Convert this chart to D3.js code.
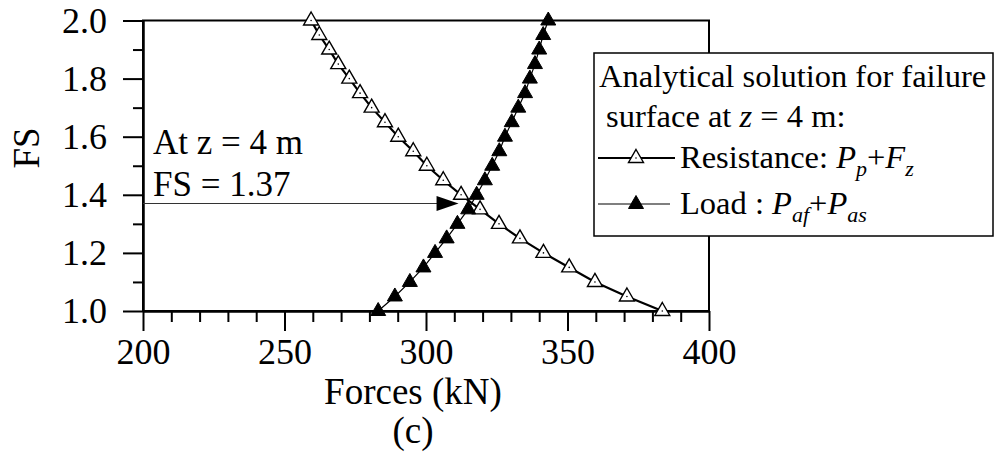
<!DOCTYPE html>
<html>
<head>
<meta charset="utf-8">
<script src="https://cdn.jsdelivr.net/npm/d3@7"></script>
<style>
  html, body { margin: 0; padding: 0; background: #fff; }
  svg text { font-family: "Liberation Serif", "DejaVu Serif", serif !important; fill: #000; }
</style>
</head>
<body>
<svg id="chart" width="1004" height="457"></svg>
<script>
// FS levels (y) and the two force curves (x, kN)
const fsLevels = [2.0, 1.95, 1.9, 1.85, 1.8, 1.75, 1.7, 1.65, 1.6, 1.55, 1.5,
                  1.45, 1.4, 1.35, 1.3, 1.25, 1.2, 1.15, 1.1, 1.05, 1.0];
const resistance = [259.4, 262.3, 265.8, 269.0, 272.9, 276.7, 280.8, 285.5, 290.2, 295.5, 300.3,
                    306.1, 312.4, 319.1, 325.8, 333.2, 341.5, 350.6, 359.7, 371.0, 383.5];
const load = [343.2, 341.4, 340.0, 338.5, 336.7, 335.0, 332.6, 330.3, 327.9, 325.9, 323.4,
              320.8, 317.9, 314.9, 311.1, 307.3, 303.2, 299.1, 294.3, 289.0, 283.1];

const xMajor = [200, 250, 300, 350, 400];
const xMinor = [210, 220, 230, 240, 260, 270, 280, 290, 310, 320, 330, 340, 360, 370, 380, 390];
const yMajor = [1.0, 1.2, 1.4, 1.6, 1.8, 2.0];
const yMinor = [1.1, 1.3, 1.5, 1.7, 1.9];

// annotation: FS found at z = 4 m
const fsResult = 1.37;
const arrowTip = 311.5;

const SERIF = '"Liberation Serif", "DejaVu Serif", serif';
const TICK_FONT = 36;
const TITLE_FONT = 37;
const NOTE_FONT = 35;
const LEGEND_FONT = 32.5;

const svg = d3.select("#chart");
const margin = { left: 143, right: 295, top: 20.5, bottom: 146 };
const width = 1004, height = 457;

const x = d3.scaleLinear().domain([200, 400]).range([margin.left, width - margin.right]);
const y = d3.scaleLinear().domain([1, 2]).range([height - margin.bottom, margin.top]);

// axes
svg.append("g")
    .attr("transform", `translate(0,${y(1)})`)
    .call(d3.axisBottom(x).tickValues(xMajor).tickSize(20).tickSizeOuter(0).tickPadding(7).tickFormat(d3.format("d")));
svg.append("g")
    .attr("transform", `translate(0,${y(1)})`)
    .call(d3.axisBottom(x).tickValues(xMinor).tickSize(11).tickSizeOuter(0).tickFormat(""));

svg.append("g")
    .attr("transform", `translate(${x(200)},0)`)
    .call(d3.axisLeft(y).tickValues(yMajor).tickSize(20).tickSizeOuter(0).tickPadding(16).tickFormat(d3.format(".1f")));
svg.append("g")
    .attr("transform", `translate(${x(200)},0)`)
    .call(d3.axisLeft(y).tickValues(yMinor).tickSize(10).tickSizeOuter(0).tickFormat(""));

svg.selectAll("g").attr("font-family", SERIF);
svg.selectAll(".tick line").attr("stroke", "#000").attr("stroke-width", 2);
svg.selectAll(".domain").attr("stroke", "#000").attr("stroke-width", 2);
svg.selectAll(".tick text").attr("font-size", TICK_FONT).style("font-family", SERIF);

// frame
svg.append("rect")
    .attr("x", x(200)).attr("y", y(2))
    .attr("width", x(400) - x(200)).attr("height", y(1) - y(2))
    .attr("fill", "none").attr("stroke", "#000").attr("stroke-width", 2);

function label(xPos, yPos, txt, size, anchor = "start") {
    return svg.append("text")
        .attr("x", xPos).attr("y", yPos)
        .attr("text-anchor", anchor)
        .style("font-family", SERIF).style("font-size", size + "px")
        .text(txt);
}

// axis titles
label(413, 404, "Forces (kN)", TITLE_FONT, "middle");
label(413, 443, "(c)", TITLE_FONT, "middle");
label(0, 0, "FS", TITLE_FONT, "middle").attr("transform", "translate(39,148) rotate(-90)");

// annotation text
label(153, 154, "At z = 4 m", NOTE_FONT);
label(153, 196, "FS = 1.37", NOTE_FONT);

// triangle marker
const tri = "M0,-8.5L7.5,4.5L-7.5,4.5Z";

const resData = fsLevels.map((fs, i) => ({ fs, f: resistance[i] }));
const loadData = fsLevels.map((fs, i) => ({ fs, f: load[i] }));

const line = d3.line().x(d => x(d.f)).y(d => y(d.fs));

// resistance: thick line, open triangles
svg.append("path").datum(resData)
    .attr("d", line).attr("fill", "none").attr("stroke", "#000").attr("stroke-width", 2.2);
const rp = svg.append("g").selectAll("g").data(resData).join("g")
    .attr("transform", d => `translate(${x(d.f)},${y(d.fs)})`);
rp.append("path").attr("d", tri).attr("fill", "#fff").attr("stroke", "#000").attr("stroke-width", 1.4);
rp.append("circle").attr("r", 0.8).attr("fill", "#000");

// load: thin line, filled triangles
svg.append("path").datum(loadData)
    .attr("d", line).attr("fill", "none").attr("stroke", "#000").attr("stroke-width", 1.2);
svg.append("g").selectAll("path").data(loadData).join("path")
    .attr("transform", d => `translate(${x(d.f)},${y(d.fs)})`)
    .attr("d", tri).attr("fill", "#000").attr("stroke", "#000").attr("stroke-width", 1);

// arrow at FS = 1.37
svg.append("line")
    .attr("x1", x(200)).attr("x2", x(arrowTip) - 18)
    .attr("y1", y(fsResult)).attr("y2", y(fsResult))
    .attr("stroke", "#333").attr("stroke-width", 1.2);
svg.append("path")
    .attr("transform", `translate(${x(arrowTip)},${y(fsResult)})`)
    .attr("d", "M0,0L-22,-7.5L-22,7.5Z").attr("fill", "#000");

// legend
const lg = svg.append("g");
lg.append("rect").attr("x", 594).attr("y", 53).attr("width", 399).attr("height", 183)
    .attr("fill", "#fff").attr("stroke", "#000").attr("stroke-width", 1.5);

function richText(xPos, yPos, parts) {
    const t = lg.append("text").attr("x", xPos).attr("y", yPos)
        .style("font-family", SERIF).style("font-size", LEGEND_FONT + "px");
    let shift = 0;
    parts.forEach(p => {
        const s = t.append("tspan").text(p.t);
        if (p.i) s.style("font-style", "italic");
        const want = p.sub ? 8 : 0;
        if (want !== shift) { s.attr("dy", want - shift); shift = want; }
        if (p.sub) s.style("font-size", "22px");
    });
    return t;
}

richText(599, 87, [{ t: "Analytical solution for failure" }]);
richText(606, 127, [{ t: "surface at " }, { t: "z", i: true }, { t: " = 4 m:" }]);

// legend rows
lg.append("line").attr("x1", 598).attr("x2", 675).attr("y1", 158).attr("y2", 158)
    .attr("stroke", "#000").attr("stroke-width", 2.2);
lg.append("path").attr("transform", "translate(636,158)").attr("d", tri)
    .attr("fill", "#fff").attr("stroke", "#000").attr("stroke-width", 1.4);
lg.append("circle").attr("cx", 636).attr("cy", 158).attr("r", 0.8).attr("fill", "#000");

lg.append("line").attr("x1", 598).attr("x2", 670).attr("y1", 204).attr("y2", 204)
    .attr("stroke", "#000").attr("stroke-width", 1.2);
lg.append("path").attr("transform", "translate(636,204)").attr("d", tri)
    .attr("fill", "#000").attr("stroke", "#000").attr("stroke-width", 1);

richText(680, 168, [
    { t: "Resistance: " }, { t: "P", i: true }, { t: "p", i: true, sub: true },
    { t: "+" }, { t: "F", i: true }, { t: "z", i: true, sub: true }
]);
richText(680, 214, [
    { t: "Load : " }, { t: "P", i: true }, { t: "af", i: true, sub: true },
    { t: "+" }, { t: "P", i: true }, { t: "as", i: true, sub: true }
]);
</script>
</body>
</html>
